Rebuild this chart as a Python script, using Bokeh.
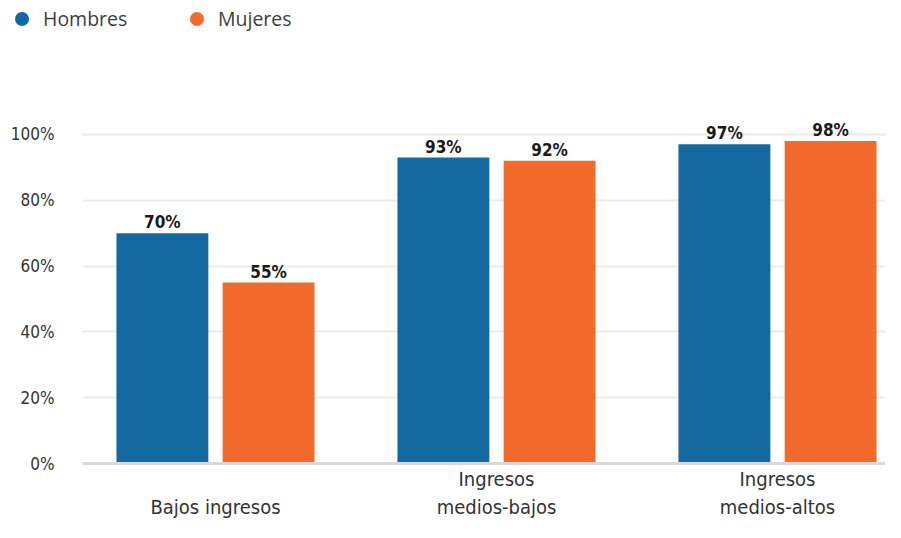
from bokeh.plotting import figure
from bokeh.models import ColumnDataSource, Range1d, FixedTicker, PrintfTickFormatter, Div
from bokeh.layouts import column
from bokeh.transform import dodge
from bokeh.core.properties import value
from bokeh.embed import file_html
from bokeh.resources import INLINE

categories = ["Bajos ingresos", "Ingresos medios-bajos", "Ingresos medios-altos"]
tick_labels = ["\nBajos ingresos", "Ingresos\nmedios-bajos", "Ingresos\nmedios-altos"]
hombres = [70, 93, 97]
mujeres = [55, 92, 98]
series_names = ["Hombres", "Mujeres"]
y_ticks = [0, 20, 40, 60, 80, 100]

BLUE = "#146aa0"
ORANGE = "#f26b2c"
COND = "DejaVu Sans Condensed"
W = 885
LH = 38
H = 522 - LH

xs = list(range(len(categories)))
src = ColumnDataSource(dict(
    x=xs,
    h=hombres,
    m=mujeres,
    hl=[f"{v}%" for v in hombres],
    ml=[f"{v}%" for v in mujeres],
))

# ---------- legend (HTML strip above the chart) ----------
items_html = ""
for i, (name, col) in enumerate(zip(series_names, [BLUE, ORANGE])):
    left = 15 + i * 175
    items_html += (
        f'<span style="position:absolute;left:{left}px;top:12px;width:14px;height:14px;'
        f'border-radius:50%;background:{col};"></span>'
        f'<span style="position:absolute;left:{left + 28}px;top:5px;line-height:28px;'
        f'white-space:nowrap;">{name}</span>'
    )
legend_div = Div(
    text=(f'<div style="position:relative;width:{W}px;height:{LH}px;'
          f"font-family:'Open Sans';font-size:19.5px;color:#3d3d3d;\">"
          f'{items_html}</div>'),
    width=W, height=LH, margin=0,
)

# ---------- main chart ----------
p = figure(width=W, height=H, output_backend="svg", toolbar_location=None,
           x_range=Range1d(-0.4733, 2.3843), y_range=Range1d(0, 118.84),
           min_border_left=82, min_border_right=0, min_border_top=34,
           min_border_bottom=56)
p.outline_line_color = None

BW = 0.327
OFF = 0.189
p.vbar(x=dodge("x", -OFF), top="h", width=BW, source=src, color=BLUE, line_color=None)
p.vbar(x=dodge("x", OFF), top="m", width=BW, source=src, color=ORANGE, line_color=None)

p.text(x=dodge("x", -OFF), y="h", text="hl", source=src, text_font=value(COND),
       text_font_style="bold", text_font_size="17px", text_align="center",
       text_baseline="alphabetic", y_offset=-11, text_color="#1a1a1a")
p.text(x=dodge("x", OFF), y="m", text="ml", source=src, text_font=value(COND),
       text_font_style="bold", text_font_size="17px", text_align="center",
       text_baseline="alphabetic", y_offset=-11, text_color="#1a1a1a")

p.xgrid.visible = False
p.ygrid.ticker = FixedTicker(ticks=y_ticks)
p.ygrid.grid_line_color = "#ebebeb"
p.ygrid.grid_line_width = 2

p.yaxis.ticker = FixedTicker(ticks=y_ticks)
p.yaxis.formatter = PrintfTickFormatter(format="%d%%")
p.yaxis.axis_line_color = None
p.yaxis.major_tick_line_color = None
p.yaxis.minor_tick_line_color = None
p.yaxis.major_tick_out = 0
p.yaxis.major_label_standoff = 28
p.yaxis.major_label_text_font = COND
p.yaxis.major_label_text_font_size = "17px"
p.yaxis.major_label_text_color = "#333333"

p.xaxis.ticker = FixedTicker(ticks=xs)
p.xaxis.major_label_overrides = {i: t for i, t in zip(xs, tick_labels)}
p.xaxis.axis_line_color = "#d9d9d9"
p.xaxis.axis_line_width = 3
p.xaxis.major_tick_line_color = None
p.xaxis.minor_tick_line_color = None
p.xaxis.major_tick_out = 0
p.xaxis.major_label_standoff = 3
p.xaxis.major_label_text_font = COND
p.xaxis.major_label_text_font_size = "20px"
p.xaxis.major_label_text_line_height = 1.2
p.xaxis.major_label_text_color = "#333333"

layout = column(legend_div, p, spacing=0)
open("out.html", "w").write(file_html(layout, INLINE))
